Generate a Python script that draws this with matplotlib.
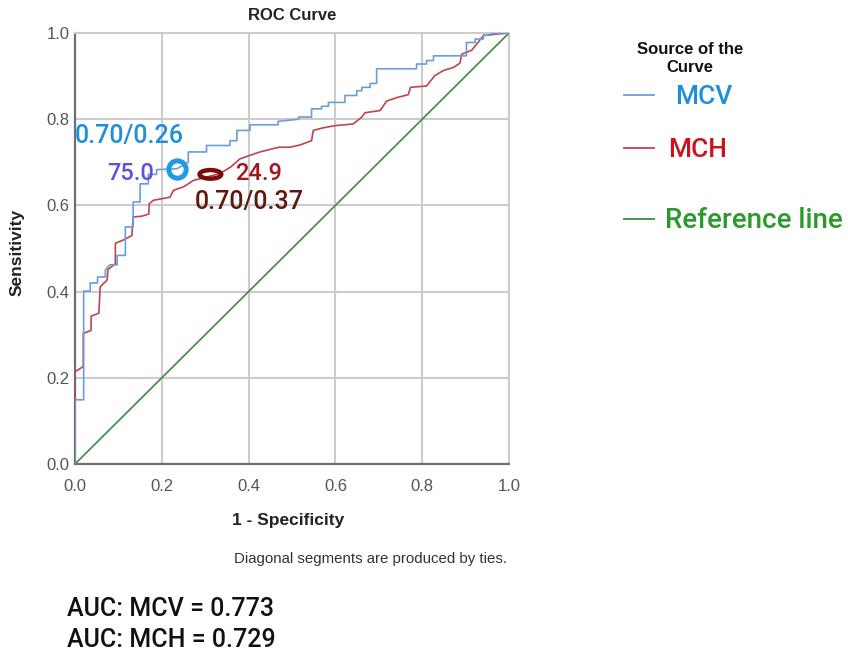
import matplotlib
matplotlib.use("Agg")
import matplotlib.pyplot as plt
from matplotlib.patches import Ellipse
from matplotlib.lines import Line2D

# ---------------- data ----------------
mcv_fpr = [0, 0, 0.020, 0.020, 0.035, 0.035, 0.052, 0.052, 0.070, 0.070, 0.080, 0.097, 0.097,
           0.116, 0.116, 0.134, 0.134, 0.150, 0.150, 0.169, 0.169, 0.188, 0.188, 0.235, 0.261,
           0.261, 0.303, 0.303, 0.357, 0.357, 0.373, 0.373, 0.403, 0.403, 0.468, 0.468, 0.515,
           0.515, 0.545, 0.545, 0.568, 0.568, 0.584, 0.584, 0.622, 0.622, 0.649, 0.649, 0.661,
           0.661, 0.680, 0.680, 0.695, 0.695, 0.787, 0.787, 0.810, 0.810, 0.826, 0.826, 0.902,
           0.902, 0.922, 0.922, 0.941, 0.941, 0.960, 0.960, 1.0]
mcv_tpr = [0, 0.149, 0.149, 0.401, 0.401, 0.420, 0.420, 0.434, 0.434, 0.450, 0.462, 0.462, 0.484,
           0.484, 0.550, 0.550, 0.608, 0.608, 0.650, 0.650, 0.672, 0.672, 0.683, 0.685, 0.700,
           0.724, 0.724, 0.739, 0.739, 0.750, 0.750, 0.774, 0.774, 0.787, 0.787, 0.795, 0.800,
           0.805, 0.805, 0.824, 0.824, 0.830, 0.830, 0.839, 0.839, 0.855, 0.855, 0.866, 0.866,
           0.874, 0.874, 0.883, 0.883, 0.917, 0.917, 0.928, 0.928, 0.936, 0.936, 0.947, 0.947,
           0.978, 0.978, 0.986, 0.986, 0.995, 0.995, 1.0, 1.0]

mch_fpr = [0, 0, 0.019, 0.019, 0.037, 0.037, 0.055, 0.058, 0.074, 0.076, 0.093, 0.093, 0.112,
           0.131, 0.134, 0.154, 0.170, 0.171, 0.181, 0.219, 0.227, 0.250, 0.273, 0.296, 0.334,
           0.360, 0.380, 0.400, 0.426, 0.470, 0.495, 0.518, 0.545, 0.549, 0.572, 0.599, 0.641,
           0.661, 0.668, 0.703, 0.718, 0.741, 0.768, 0.773, 0.810, 0.829, 0.849, 0.872, 0.887,
           0.891, 0.914, 0.926, 0.941, 0.964, 1.0]
mch_tpr = [0, 0.214, 0.226, 0.303, 0.310, 0.343, 0.350, 0.411, 0.427, 0.451, 0.465, 0.512, 0.520,
           0.530, 0.573, 0.575, 0.580, 0.604, 0.612, 0.619, 0.635, 0.643, 0.658, 0.664, 0.674,
           0.690, 0.708, 0.715, 0.724, 0.735, 0.735, 0.740, 0.750, 0.774, 0.780, 0.785, 0.789,
           0.805, 0.815, 0.820, 0.842, 0.850, 0.857, 0.874, 0.877, 0.901, 0.913, 0.920, 0.930,
           0.951, 0.960, 0.975, 0.994, 0.997, 1.0]

ref_x = [0, 1]
ref_y = [0, 1]

mcv_cut = (0.235, 0.685)
mch_cut = (0.312, 0.672)

ticks = [0.0, 0.2, 0.4, 0.6, 0.8, 1.0]
tick_labels = ["0.0", "0.2", "0.4", "0.6", "0.8", "1.0"]

auc_mcv = 0.773
auc_mch = 0.729

# ---------------- colours ----------------
C_MCV = "#6b9ddb"
C_MCH = "#c2424f"
C_REF = "#3d8b3d"

fig = plt.figure(figsize=(8.48, 6.56), dpi=100)
ax = fig.add_axes([75 / 848, 1 - 464 / 656, 434 / 848, 431 / 656])

ax.plot(ref_x, ref_y, color=C_REF, lw=1.2, zorder=3)
ax.plot(mch_fpr, mch_tpr, color=C_MCH, lw=1.2, zorder=4)
ax.plot(mcv_fpr, mcv_tpr, color=C_MCV, lw=1.2, zorder=5)

ax.set_xlim(0, 1)
ax.set_ylim(0, 1)
ax.set_xticks(ticks)
ax.set_yticks(ticks)
ax.set_xticklabels(tick_labels)
ax.set_yticklabels(tick_labels)
ax.tick_params(length=0, labelsize=12, colors="#555555", pad=4)
ax.tick_params(axis="x", pad=11)
for lab in ax.get_xticklabels() + ax.get_yticklabels():
    lab.set_family("Liberation Sans")
ax.grid(True, color="#cccccc", lw=1.5, zorder=0)
for s in ["top", "right"]:
    ax.spines[s].set_color("#cccccc")
    ax.spines[s].set_linewidth(1.5)
for s in ["left", "bottom"]:
    ax.spines[s].set_color("#6f6f6f")
    ax.spines[s].set_linewidth(1.6)

# cut-off markers
ax.plot([mcv_cut[0]], [mcv_cut[1]], marker="o", ms=12.5, mfc="none", mec="#1f9be3",
        mew=3.6, zorder=7, clip_on=False)
ax.add_patch(Ellipse(mch_cut, width=0.050, height=0.020, fill=False, ec="#7b0b0b",
                     lw=3.2, zorder=7))

# annotations
ann_font = "Roboto"
W = "medium"
ax.text(0.0, 0.760, "0.70/0.26", color="#1f8fd6", fontsize=18, family=ann_font,
        fontweight=W, ha="left", va="center", zorder=8)
ax.text(0.074, 0.673, "75.0", color="#5b52de", fontsize=17, family=ann_font,
        fontweight=W, ha="left", va="center", zorder=8)
ax.text(0.369, 0.675, "24.9", color="#a3161c", fontsize=17, family=ann_font,
        fontweight=W, ha="left", va="center", zorder=8)
ax.text(0.276, 0.607, "0.70/0.37", color="#5b1a0e", fontsize=18, family=ann_font,
        fontweight=W, ha="left", va="center", zorder=8)

# titles
fig.text(292 / 848, 1 - 15 / 656, "ROC Curve", ha="center", va="center",
         fontsize=12, fontweight="bold", family="Liberation Sans", color="#222222")
fig.text(288 / 848, 1 - 521 / 656, "1 - Specificity", ha="center", va="center",
         fontsize=12.5, fontweight="bold", family="Liberation Sans", color="#222222")
fig.text(17 / 848, 1 - 252 / 656, "Sensitivity", ha="center", va="center", rotation=90,
         fontsize=12.5, fontweight="bold", family="Liberation Sans", color="#222222")
fig.text(371 / 848, 1 - 559 / 656, "Diagonal segments are produced by ties.",
         ha="center", va="center", fontsize=10.8, family="Liberation Sans", color="#333333")

# legend
fig.text(690 / 848, 1 - 50 / 656, "Source of the", ha="center", va="center",
         fontsize=12, fontweight="bold", family="Liberation Sans", color="#111111")
fig.text(690 / 848, 1 - 68 / 656, "Curve", ha="center", va="center",
         fontsize=12, fontweight="bold", family="Liberation Sans", color="#111111")
leg_items = [("MCV", C_MCV, "#1f8fd6", 95, 675, 19), ("MCH", C_MCH, "#c8141e", 148, 668, 19),
             ("Reference line", C_REF, "#2a9a2a", 219, 665, 20)]
for label, lc, tc, py, tx, fs in leg_items:
    fig.add_artist(Line2D([624 / 848, 654 / 848], [1 - py / 656, 1 - py / 656],
                          color=lc, lw=1.3, transform=fig.transFigure))
    fig.text(tx / 848, 1 - (py + 2) / 656, label, ha="left", va="center", fontsize=fs,
             family=ann_font, fontweight=W, color=tc)

# AUC text
fig.text(67 / 848, 1 - 609 / 656, f"AUC: MCV = {auc_mcv:.3f}", ha="left", va="center",
         fontsize=18, family=ann_font, fontweight=W, color="#111111")
fig.text(67 / 848, 1 - 640 / 656, f"AUC: MCH = {auc_mch:.3f}", ha="left", va="center",
         fontsize=18, family=ann_font, fontweight=W, color="#111111")

fig.savefig("out.png", dpi=100, facecolor="white")
